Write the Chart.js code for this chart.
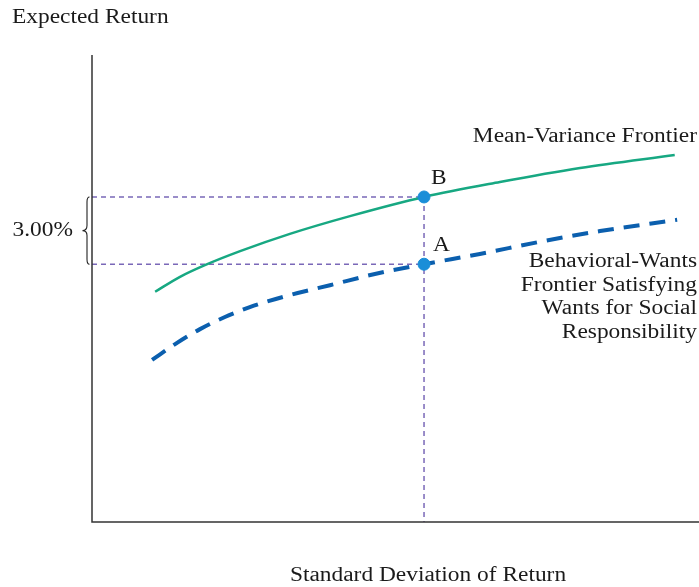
<!DOCTYPE html>
<html>
<head>
<meta charset="utf-8">
<script src="https://cdn.jsdelivr.net/npm/chart.js@4/dist/chart.umd.min.js"></script>
<style>
  html, body { margin: 0; padding: 0; background: #fff; }
  #wrap { width: 699px; height: 587px; }
</style>
</head>
<body>
<div id="wrap"><canvas id="frontier" width="699" height="587"></canvas></div>
<script>
// ==========================================
//  DONNEES (unites arbitraires 0..10)
// ==========================================
const meanVarX = [1.04, 1.45, 1.86, 2.44, 3.26, 4.25, 5.47, 6.72, 8.04, 9.60];
const meanVarY = [4.93, 5.25, 5.50, 5.80, 6.17, 6.55, 6.96, 7.28, 7.58, 7.86];

const behavX = [0.99, 1.37, 1.78, 2.19, 2.60, 3.26, 3.92, 4.66, 5.47, 6.39, 7.38, 8.37, 9.64];
const behavY = [3.47, 3.81, 4.13, 4.39, 4.60, 4.86, 5.07, 5.31, 5.52, 5.74, 6.00, 6.23, 6.47];

const pointLabels = ['B', 'A'];
const pointX = [5.47, 5.47];
const pointY = [6.96, 5.52];

const gapLabel = '3.00%';
const titreY = 'Expected Return';
const titreX = 'Standard Deviation of Return';
const labelMeanVar = ['Mean-Variance Frontier'];
const labelBehav = ['Behavioral-Wants', 'Frontier Satisfying', 'Wants for Social', 'Responsibility'];

const SERIF = '"Liberation Serif", "DejaVu Serif", serif';
const ETIREMENT = 1.17; // la police d'origine est plus large

const toXY = (xs, ys) => xs.map((x, i) => ({ x: x, y: ys[i] }));

function texte(ctx, t, x, y, align) {
    ctx.save();
    ctx.translate(x, y);
    ctx.scale(ETIREMENT, 1);
    ctx.textAlign = align;
    ctx.fillText(t, 0, 0);
    ctx.restore();
}

// ==========================================
//  PLUGIN : axes, accolade et textes
// ==========================================
const decorPlugin = {
    id: 'decor',
    afterDraw(chart) {
        const ctx = chart.ctx;
        const area = chart.chartArea;
        const sx = chart.scales.x;
        const sy = chart.scales.y;

        // axes
        ctx.save();
        ctx.strokeStyle = '#333';
        ctx.lineWidth = 1.5;
        ctx.beginPath();
        ctx.moveTo(area.left, area.top);
        ctx.lineTo(area.left, area.bottom);
        ctx.lineTo(area.right, area.bottom);
        ctx.stroke();

        // accolade entre B et A
        const yTop = sy.getPixelForValue(pointY[0]);
        const yBot = sy.getPixelForValue(pointY[1]);
        const yMid = (yTop + yBot) / 2;
        const bx = area.left - 5;
        ctx.strokeStyle = '#222';
        ctx.lineWidth = 1.1;
        ctx.beginPath();
        ctx.moveTo(bx + 2.5, yTop);
        ctx.quadraticCurveTo(bx, yTop, bx, yTop + 5);
        ctx.lineTo(bx, yMid - 5);
        ctx.quadraticCurveTo(bx, yMid, bx - 4.5, yMid);
        ctx.quadraticCurveTo(bx, yMid, bx, yMid + 5);
        ctx.lineTo(bx, yBot - 5);
        ctx.quadraticCurveTo(bx, yBot, bx + 2.5, yBot);
        ctx.stroke();

        // textes
        ctx.fillStyle = '#1a1a1a';
        ctx.textBaseline = 'middle';
        ctx.font = '20px ' + SERIF;
        texte(ctx, gapLabel, 73, yMid, 'right');
        texte(ctx, titreY, 12, 18, 'left');
        texte(ctx, titreX, 428, 576, 'center');
        texte(ctx, labelMeanVar[0], 697, 137, 'right');
        labelBehav.forEach((t, i) => texte(ctx, t, 697, 262 + i * 23.5, 'right'));

        // lettres des points
        pointLabels.forEach((t, i) => {
            const px = sx.getPixelForValue(pointX[i]);
            const py = sy.getPixelForValue(pointY[i]);
            texte(ctx, t, px + 7 + i * 2, py - 18, 'left');
        });
        ctx.restore();
    }
};

// ==========================================
//  GRAPHIQUE
// ==========================================
const refStyle = {
    borderColor: '#7a68b8',
    borderWidth: 1.5,
    borderDash: [5, 4],
    pointRadius: 0,
    fill: false,
    order: 3
};

new Chart(document.getElementById('frontier'), {
    type: 'line',
    data: {
        datasets: [
            Object.assign({ data: [{ x: 0, y: pointY[0] }, { x: pointX[0], y: pointY[0] }] }, refStyle),
            Object.assign({ data: [{ x: 0, y: pointY[1] }, { x: pointX[1], y: pointY[1] }] }, refStyle),
            Object.assign({ data: [{ x: pointX[0], y: pointY[0] }, { x: pointX[0], y: 0 }] }, refStyle),
            {
                label: 'Mean-Variance Frontier',
                data: toXY(meanVarX, meanVarY),
                borderColor: '#17a882',
                borderWidth: 2.5,
                pointRadius: 0,
                cubicInterpolationMode: 'monotone',
                fill: false,
                order: 2
            },
            {
                label: 'Behavioral-Wants Frontier',
                data: toXY(behavX, behavY),
                borderColor: '#0b5fae',
                borderWidth: 4,
                borderDash: [16, 10],
                pointRadius: 0,
                cubicInterpolationMode: 'monotone',
                fill: false,
                order: 2
            },
            {
                type: 'scatter',
                label: 'Points',
                data: toXY(pointX, pointY),
                backgroundColor: '#1a8ed8',
                borderColor: '#1a8ed8',
                pointRadius: 6,
                showLine: false,
                order: 0
            }
        ]
    },
    options: {
        responsive: false,
        animation: false,
        layout: { autoPadding: false, padding: { left: 92, top: 55, right: 0, bottom: 65 } },
        plugins: { legend: { display: false }, tooltip: { enabled: false } },
        scales: {
            x: { type: 'linear', min: 0, max: 10, display: false },
            y: { type: 'linear', min: 0, max: 10, display: false }
        }
    },
    plugins: [decorPlugin]
});
</script>
</body>
</html>
